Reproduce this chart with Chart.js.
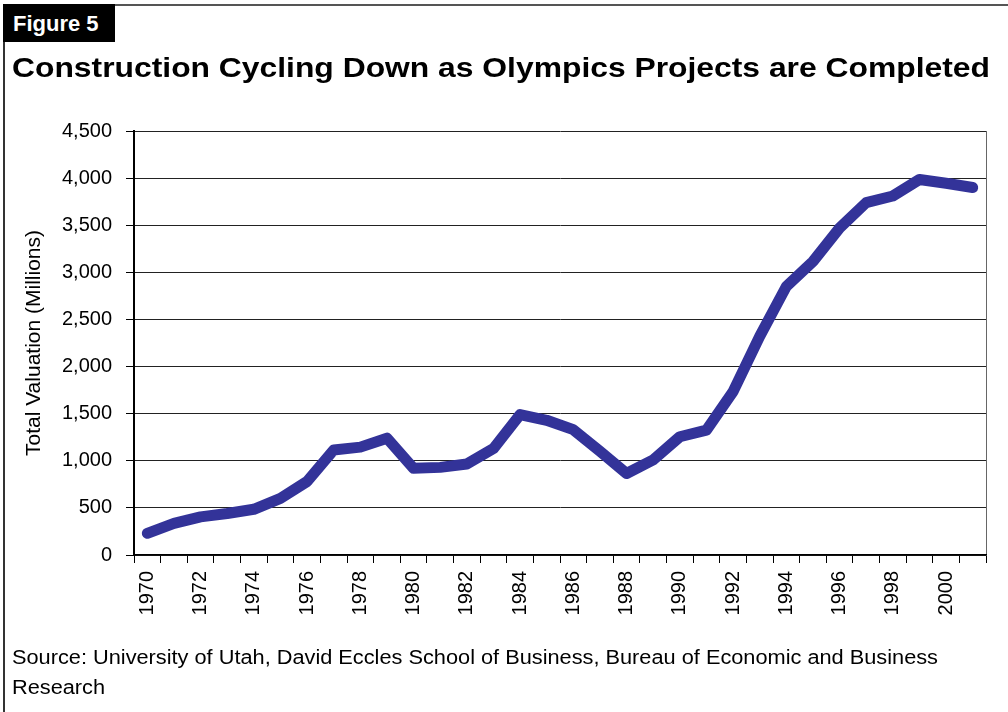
<!DOCTYPE html>
<html>
<head>
<meta charset="utf-8">
<script src="https://cdn.jsdelivr.net/npm/chart.js@4.4.1/dist/chart.umd.min.js"></script>
<style>
  body { margin: 0; background: #fff; font-family: "Liberation Sans", Arial, sans-serif; }
  #wrap { position: relative; width: 1008px; height: 712px; overflow: hidden; }
  #frame { position: absolute; left: 3px; top: 4px; width: 1010px; height: 720px;
           border-top: 2px solid #555; border-left: 2px solid #333; box-sizing: border-box; }
  #fig { position: absolute; left: 3px; top: 4px; width: 112px; height: 38px; background: #000; }
  #figtxt { position: absolute; left: 13px; top: 13px; color: #fff; font-weight: bold; font-size: 22px; line-height: 1; }
  #title { position: absolute; left: 12px; top: 54px; font-weight: bold; font-size: 28px; line-height: 1; color: #000; white-space: nowrap; }
  #source { position: absolute; left: 12px; top: 642px; font-size: 20px; line-height: 30px; color: #000; white-space: nowrap; }
  .fit { display: inline-block; transform-origin: 0 50%; }
  canvas { position: absolute; left: 0; top: 0; }
</style>
</head>
<body>
<div id="wrap">
  <canvas id="myChart" width="1008" height="712"></canvas>
  <div id="frame"></div>
  <div id="fig"></div>
  <div id="figtxt">Figure 5</div>
  <div id="title"><span class="fit" id="titleLine">Construction Cycling Down as Olympics Projects are Completed</span></div>
  <div id="source"><span class="fit" id="srcLine">Source: University of Utah, David Eccles School of Business, Bureau of Economic and Business</span><br><span class="fit" id="srcLine2">Research</span></div>
</div>
<script>
// years on the x axis
const years = [];
for (let y = 1970; y <= 2001; y++) years.push(String(y));

// total valuation, millions
const valuation = [230, 335, 405, 440, 485, 600, 780, 1115, 1145, 1240,
  920, 930, 965, 1130, 1490, 1430, 1330, 1100, 865, 1010,
  1255, 1325, 1735, 2320, 2850, 3115, 3470, 3740, 3810, 3985,
  3945, 3900];

const yTicks = [0, 500, 1000, 1500, 2000, 2500, 3000, 3500, 4000, 4500];

const fontName = "'Liberation Sans', Arial, sans-serif";

// widen a line of text so it spans the same width as in the original
function fitWidth(id, target, other) {
  const el = document.getElementById(id);
  const k = target / el.getBoundingClientRect().width;
  el.style.transform = "scaleX(" + k + ")";
  if (other) document.getElementById(other).style.transform = "scaleX(" + k + ")";
}
fitWidth("titleLine", 978);
fitWidth("srcLine", 926, "srcLine2");

new Chart("myChart", {
  type: "line",
  data: {
    labels: years,
    datasets: [{
      data: valuation,
      borderColor: "#333399",
      borderWidth: 11,
      borderCapStyle: "round",
      borderJoinStyle: "round",
      pointRadius: 0,
      tension: 0,
      fill: false
    }]
  },
  options: {
    responsive: false,
    animation: false,
    layout: { padding: { left: 0, top: 131, right: 22, bottom: 0 } },
    plugins: {
      legend: { display: false },
      tooltip: { enabled: false }
    },
    scales: {
      x: {
        offset: true,
        grid: {
          offset: true,
          drawOnChartArea: true,
          // only the closing line on the right shows inside the plot
          color: ctx => ctx.type === "tick" ? "rgba(0,0,0,0)" : "#666",
          tickColor: "#000",
          tickLength: 8,
          lineWidth: 1
        },
        border: { color: "#000", width: 1.5 },
        ticks: {
          autoSkip: false,
          minRotation: 90,
          maxRotation: 90,
          padding: 8,
          color: "#000",
          font: { family: fontName, size: 20 },
          callback: function (val, i) { return i % 2 === 0 ? years[i] : ""; }
        },
        afterFit: scale => { scale.height = 157; }
      },
      y: {
        min: 0,
        max: 4500,
        afterBuildTicks: scale => { scale.ticks = yTicks.map(v => ({ value: v })); },
        grid: { color: "#222", lineWidth: 1, tickLength: 8, tickColor: "#000" },
        border: { color: "#000", width: 2 },
        ticks: {
          padding: 14,
          color: "#000",
          font: { family: fontName, size: 20 },
          callback: v => v.toLocaleString("en-US")
        },
        title: {
          display: true,
          text: "Total Valuation (Millions)",
          color: "#000",
          font: { family: fontName, size: 21 },
          padding: { top: 22, bottom: 0 }
        },
        afterFit: scale => { scale.width = 134; }
      }
    }
  }
});
</script>
</body>
</html>
